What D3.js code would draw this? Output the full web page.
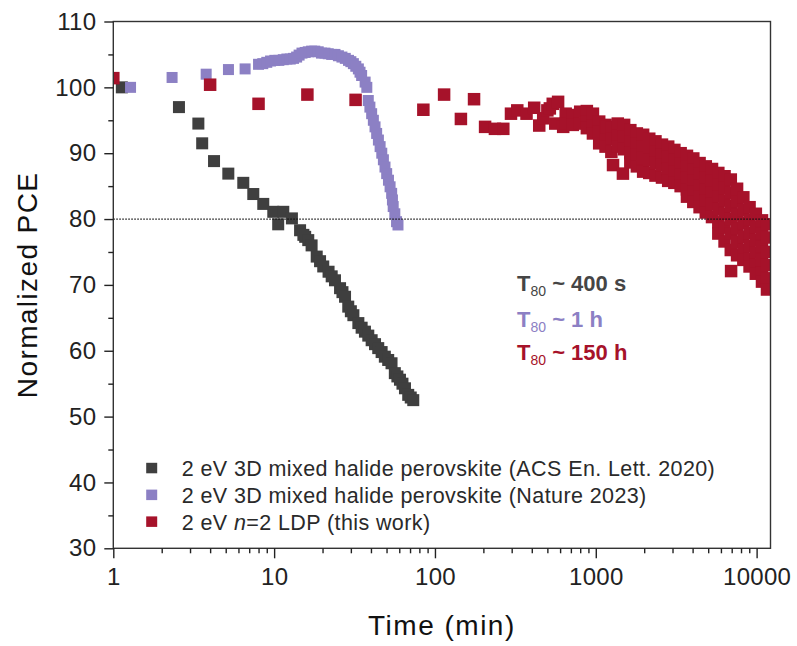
<!DOCTYPE html>
<html>
<head>
<meta charset="utf-8">
<script src="https://cdn.jsdelivr.net/npm/d3@7"></script>
<style>
  body { margin: 0; background: #fff; }
  text { font-family: "Liberation Sans", Arial, sans-serif; }
</style>
</head>
<body>
<svg id="chart"></svg>
<script>
// Series data: [time (min), normalized PCE]
const blackPoints = [
  [1.13, 100.0], [2.56, 97.0], [3.38, 94.5], [3.57, 91.5], [4.23, 88.8], [5.19, 86.9],
  [6.43, 85.5], [7.42, 83.8], [8.56, 82.3], [9.88, 81.1], [10.6, 79.2], [11.4, 81.1],
  [12.9, 80.1], [14.5, 78.3], [15.2, 77.6], [15.6, 77.3], [16.3, 76.8], [17.1, 76.0],
  [18.4, 74.3], [19.3, 73.6], [20.2, 72.8], [21.8, 72.0], [22.8, 71.3], [23.9, 70.7],
  [25.7, 69.5], [26.6, 68.9], [27.6, 68.2], [28.9, 66.7], [30.0, 66.0], [31.1, 65.4],
  [33.4, 64.2], [35.0, 63.5], [36.7, 62.9], [38.5, 62.3], [40.4, 61.6], [42.4, 61.0],
  [44.4, 60.4], [46.6, 59.8], [48.8, 59.1], [51.2, 58.6], [53.7, 58.1], [56.3, 56.6],
  [58.4, 56.1], [60.6, 55.6], [62.8, 55.0], [65.1, 54.3], [68.2, 53.3], [70.7, 52.9],
  [73.3, 52.5]
];

const purplePoints = [
  [1.28, 100.0], [2.32, 101.5], [3.78, 102.0], [5.2, 102.7], [6.6, 102.8], [8.0, 103.5],
  [8.5, 103.6], [9.0, 103.8], [9.5, 104.0], [10.1, 104.1], [10.7, 104.1], [11.4, 104.2],
  [12.0, 104.3], [12.6, 104.3], [13.2, 104.4], [13.8, 104.6], [14.3, 104.9], [14.9, 105.2],
  [15.6, 105.3], [16.3, 105.4], [17.1, 105.5], [17.9, 105.5], [18.8, 105.4], [19.7, 105.2],
  [20.7, 105.2], [21.7, 105.1], [22.8, 105.0], [23.9, 105.0], [25.1, 104.8], [26.4, 104.6],
  [27.7, 104.4], [29.0, 104.1], [30.0, 103.9], [31.1, 103.6], [32.2, 103.2], [33.4, 102.8],
  [34.2, 102.3], [35.0, 101.8], [36.8, 100.8], [37.7, 100.0], [38.5, 98.0], [39.4, 97.0],
  [40.4, 96.0], [41.4, 95.0], [42.4, 94.0], [43.4, 93.0], [44.5, 92.0], [45.6, 91.0],
  [46.7, 90.0], [47.8, 89.0], [48.9, 87.9], [50.1, 86.9], [51.4, 85.9], [52.6, 84.9],
  [53.8, 83.9], [54.4, 82.9], [55.0, 81.9], [56.3, 80.8], [57.7, 79.6], [58.9, 79.1]
];

const redPoints = [
  [1.0, 101.4], [4.0, 100.4], [8.0, 97.5], [16.1, 98.9], [32.1, 98.1], [84.7, 96.6],
  [114, 98.9], [145, 95.2], [175, 98.2], [205, 94.0], [236, 93.7], [266, 93.7],
  [297, 96.0], [325, 96.5], [371, 96.0], [414, 96.9], [445, 94.2], [471, 95.3],
  [500, 96.5], [518, 96.8], [540, 97.5], [583, 97.8], [560, 94.5], [627, 94.0],
  [650, 96.0], [650, 94.5], [720, 95.8], [720, 94.3], [800, 96.3], [800, 94.5],
  [880, 96.4], [880, 94.8], [880, 93.8], [960, 96.0], [960, 94.2], [960, 93.0],
  [1050, 94.8], [1050, 93.2], [1050, 91.5], [1150, 94.3], [1150, 92.6], [1150, 91.0],
  [1165, 94.0], [1250, 93.8], [1250, 92.2], [1250, 90.2], [1280, 88.2], [1370, 94.5],
  [1370, 92.7], [1370, 91.0], [1500, 94.3], [1500, 92.5], [1500, 90.6], [1475, 86.9],
  [1640, 93.5], [1640, 91.8], [1640, 90.0], [1640, 88.6], [1800, 93.0], [1800, 91.4],
  [1800, 89.8], [1800, 88.0], [1970, 92.8], [1970, 91.0], [1970, 89.3], [1970, 87.2],
  [2150, 92.2], [2150, 90.6], [2150, 89.0], [2150, 87.0], [2350, 91.8], [2350, 90.2],
  [2350, 88.5], [2350, 86.6], [2580, 91.3], [2580, 89.7], [2580, 88.2], [2580, 86.3],
  [2820, 91.0], [2820, 89.4], [2820, 87.6], [2820, 85.8], [3080, 90.5], [3080, 89.0],
  [3080, 87.2], [3080, 85.5], [3370, 90.0], [3370, 88.4], [3370, 86.8], [3370, 85.0],
  [3690, 89.6], [3690, 88.0], [3690, 86.3], [3690, 84.5], [3690, 83.4], [4040, 89.2],
  [4040, 87.5], [4040, 85.8], [4040, 84.1], [4040, 82.6], [4420, 88.5], [4420, 86.9],
  [4420, 85.1], [4420, 83.4], [4420, 81.8], [4830, 88.0], [4830, 86.3], [4830, 84.5],
  [4830, 82.8], [4830, 81.0], [5280, 87.6], [5280, 85.8], [5280, 84.0], [5280, 82.3],
  [5280, 80.3], [5780, 87.0], [5780, 85.2], [5780, 83.4], [5780, 81.5], [5780, 79.5],
  [5780, 77.8], [6320, 86.5], [6320, 84.7], [6320, 82.8], [6320, 80.8], [6320, 78.7],
  [6320, 76.6], [6910, 86.0], [6910, 84.0], [6910, 82.0], [6910, 80.0], [6910, 77.8],
  [6910, 75.3], [6940, 72.1], [7560, 84.6], [7560, 82.7], [7560, 80.7], [7560, 78.6],
  [7560, 76.5], [7560, 74.5], [8270, 83.3], [8270, 81.4], [8270, 79.4], [8270, 77.3],
  [8270, 75.3], [8270, 73.8], [9040, 81.8], [9040, 79.9], [9040, 77.9], [9040, 75.9],
  [9040, 74.0], [9040, 72.8], [9890, 80.8], [9890, 78.8], [9890, 76.8], [9890, 74.9],
  [9890, 73.0], [9890, 71.7], [10800, 79.8], [10800, 77.8], [10800, 75.8], [10800, 73.8],
  [10800, 71.8], [10800, 70.5], [11600, 79.2], [11600, 77.2], [11600, 75.0], [11600, 73.0],
  [11600, 71.0], [11600, 69.3]
];

const seriesColors = ["#3f3f3f", "#8c80c4", "#a6122a"];
const legendLabels = [
  [["2 eV 3D mixed halide perovskite (ACS En. Lett. 2020)", false]],
  [["2 eV 3D mixed halide perovskite (Nature 2023)", false]],
  [["2 eV ", false], ["n", true], ["=2 LDP (this work)", false]]
];
const t80Values = ["400 s", "1 h", "150 h"];
const xMajorTicks = [1, 10, 100, 1000, 10000];
const xMinorTicks = [2, 3, 4, 5, 6, 7, 8, 9, 20, 30, 40, 50, 60, 70, 80, 90,
  200, 300, 400, 500, 600, 700, 800, 900, 2000, 3000, 4000, 5000, 6000, 7000, 8000, 9000];
const yMajorTicks = [30, 40, 50, 60, 70, 80, 90, 100, 110];
const yMinorTicks = [35, 45, 55, 65, 75, 85, 95, 105];
const refLevel = 80;

// Set up dimensions and margins
const margin = { top: 21.5, right: 26.5, bottom: 97.7, left: 113.3 };
const width = 797 - margin.left - margin.right;
const height = 646 - margin.top - margin.bottom;

const root = d3.select("#chart")
    .attr("width", 797)
    .attr("height", 646);

const svg = root.append("g")
    .attr("transform", `translate(${margin.left},${margin.top})`);

const x = d3.scaleLog().domain([1, 12200]).range([0, width]);
const y = d3.scaleLinear().domain([30, 110]).range([height, 0]);

svg.append("clipPath").attr("id", "plot-clip")
    .append("rect").attr("width", width).attr("height", height);

// Data squares
const markerSizes = [12, 11, 12.5];
const plot = svg.append("g").attr("clip-path", "url(#plot-clip)");
[blackPoints, purplePoints, redPoints].forEach((pts, i) => {
    const s = markerSizes[i];
    plot.append("g").selectAll("rect")
        .data(pts)
        .enter()
        .append("rect")
        .attr("x", d => x(d[0]) - s / 2)
        .attr("y", d => y(d[1]) - s / 2)
        .attr("width", s)
        .attr("height", s)
        .attr("fill", seriesColors[i]);
});

// T80 reference line
svg.append("line")
    .attr("x1", 0).attr("x2", width)
    .attr("y1", y(refLevel)).attr("y2", y(refLevel))
    .attr("stroke", "#111")
    .attr("stroke-width", 1.3)
    .attr("stroke-dasharray", "1.5,1.5");

// Frame
svg.append("rect")
    .attr("width", width).attr("height", height)
    .attr("fill", "none")
    .attr("stroke", "#333")
    .attr("stroke-width", 1.4);

function styleAxis(g) {
    g.select(".domain").remove();
    g.selectAll("line").attr("stroke", "#222").attr("stroke-width", 1.4);
    g.selectAll("text")
        .attr("fill", "#222")
        .style("font-size", "24px")
        .style("letter-spacing", "0.3px");
}

// X axis
svg.append("g")
    .attr("transform", `translate(0,${height})`)
    .call(d3.axisBottom(x).tickValues(xMinorTicks).tickSize(5).tickFormat(""))
    .call(styleAxis);
svg.append("g")
    .attr("transform", `translate(0,${height})`)
    .call(d3.axisBottom(x).tickValues(xMajorTicks).tickSize(10).tickPadding(10).tickFormat(d3.format("d")))
    .call(styleAxis)
    .selectAll("text").attr("dy", "0.71em");

// Y axis
svg.append("g")
    .call(d3.axisLeft(y).tickValues(yMinorTicks).tickSize(5).tickFormat(""))
    .call(styleAxis);
svg.append("g")
    .call(d3.axisLeft(y).tickValues(yMajorTicks).tickSize(9).tickPadding(8))
    .call(styleAxis);

// Axis titles
svg.append("text")
    .attr("x", width / 2)
    .attr("y", 635 - margin.top)
    .attr("text-anchor", "middle")
    .attr("fill", "#111")
    .style("font-size", "28px")
    .style("letter-spacing", "1.5px")
    .text("Time (min)");

svg.append("text")
    .attr("transform", `translate(${37 - margin.left},${height / 2}) rotate(-90)`)
    .attr("text-anchor", "middle")
    .attr("fill", "#111")
    .style("font-size", "28px")
    .style("letter-spacing", "1.4px")
    .text("Normalized PCE");

// T80 annotations
const t80Y = [269.5, 305.5, 338.5];
const annColors = ["#454545", seriesColors[1], seriesColors[2]];
t80Values.forEach((v, i) => {
    const t = svg.append("text")
        .attr("x", 403.7)
        .attr("y", t80Y[i])
        .attr("fill", annColors[i])
        .style("font-size", "22px")
        .style("font-weight", "bold");
    t.append("tspan").text("T");
    t.append("tspan").attr("dy", 5).style("font-size", "14px").style("font-weight", "normal").text("80");
    t.append("tspan").attr("dy", -5).text(" ~ " + v);
});

// Legend
const legend = svg.append("g").attr("transform", "translate(38.4,446.8)");
legendLabels.forEach((parts, i) => {
    const row = legend.append("g").attr("transform", `translate(0,${i * 26.8})`);
    row.append("rect")
        .attr("x", -5.5).attr("y", -5.5)
        .attr("width", 11).attr("height", 10.5)
        .attr("fill", seriesColors[i]);
    const txt = row.append("text")
        .attr("x", 30)
        .attr("dy", "0.36em")
        .attr("fill", "#2a2a2a")
        .style("font-size", "21.5px")
        .style("letter-spacing", "0.4px");
    parts.forEach(p => {
        txt.append("tspan").style("font-style", p[1] ? "italic" : "normal").text(p[0]);
    });
});
</script>
</body>
</html>
